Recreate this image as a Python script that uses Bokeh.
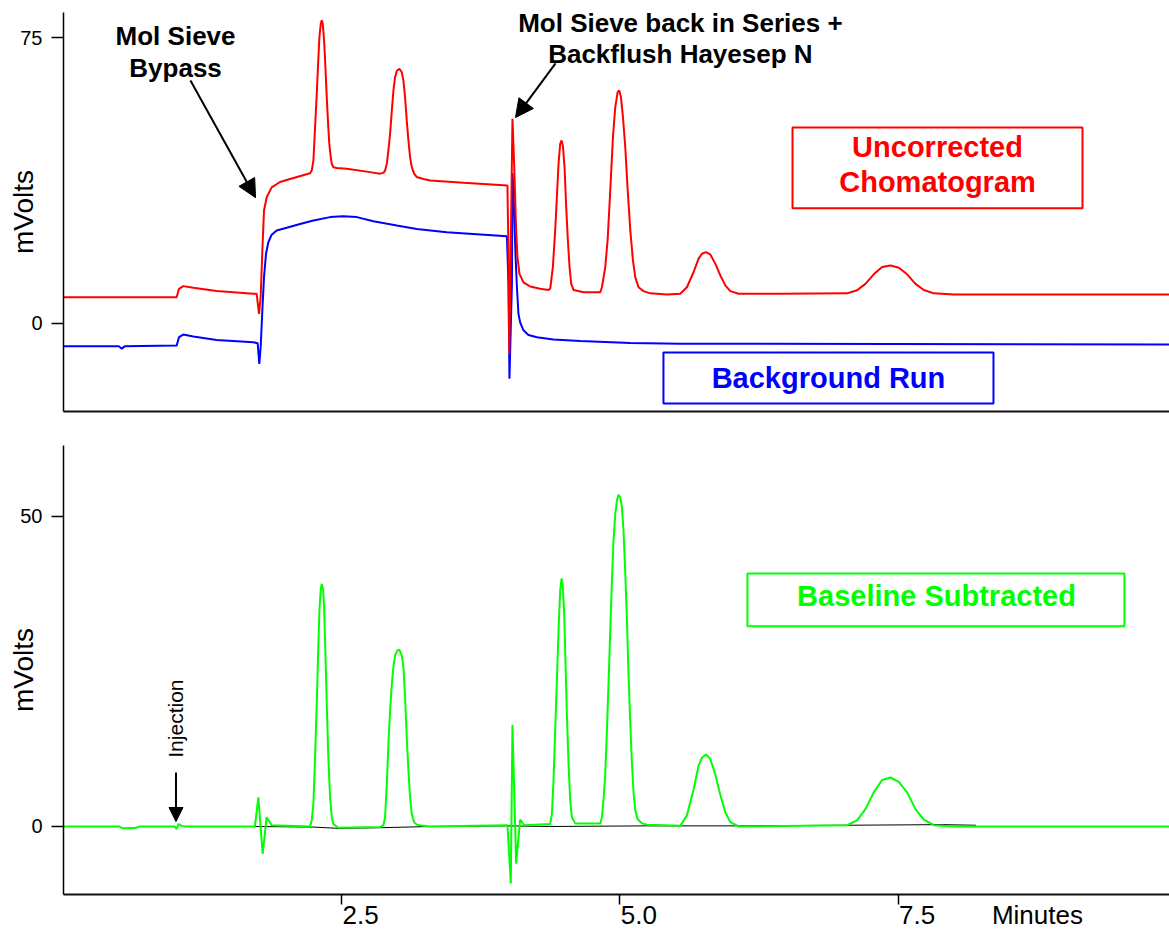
import math
from bokeh.plotting import figure
from bokeh.layouts import column
from bokeh.models import (Label, Arrow, NormalHead, BoxAnnotation, FixedTicker, Range1d,
                          LinearAxis, CustomJSTickFormatter)
from bokeh.embed import file_html
from bokeh.resources import INLINE

# ---------------- data (minutes, mVolts) ----------------
red_points = [
    (0.00, 6.9), (1.017, 6.9), (1.038, 9.1), (1.077, 9.8), (1.166, 9.4), (1.376, 8.5),
    (1.706, 7.8), (1.736, 7.8), (1.757, 2.5), (1.772, 6.9), (1.787, 19.1), (1.802, 29.6),
    (1.826, 33.1), (1.871, 35.7), (1.946, 37.1), (2.036, 37.9), (2.216, 39.4),
    (2.231, 40.1), (2.246, 42.7), (2.261, 51.5), (2.276, 60.2), (2.291, 69.8),
    (2.300, 75.1), (2.312, 78.6), (2.321, 79.5), (2.330, 78.6), (2.342, 74.2),
    (2.354, 67.2), (2.366, 59.3), (2.378, 52.4), (2.389, 47.1), (2.402, 43.6),
    (2.411, 41.9), (2.425, 41.0), (2.456, 40.8), (2.546, 40.6), (2.755, 39.7),
    (2.845, 39.3), (2.875, 39.5), (2.890, 40.1), (2.906, 41.9), (2.920, 45.4),
    (2.935, 49.7), (2.951, 55.9), (2.965, 61.1), (2.980, 64.6), (2.996, 66.3),
    (3.019, 66.8), (3.040, 65.9), (3.055, 63.7), (3.070, 59.3), (3.085, 53.2),
    (3.100, 48.0), (3.115, 43.6), (3.130, 41.0), (3.151, 39.3), (3.175, 38.4),
    (3.235, 37.9), (3.295, 37.5), (3.595, 36.9), (3.990, 36.2), (3.998, 20.0),
    (4.006, -8.0), (4.015, 10.0), (4.035, 53.7), (4.050, 41.9), (4.059, 33.1),
    (4.068, 24.4), (4.080, 17.4), (4.098, 13.0), (4.134, 10.8), (4.194, 9.7),
    (4.284, 9.1), (4.359, 8.8), (4.374, 9.1), (4.398, 14.8), (4.419, 24.4),
    (4.434, 33.1), (4.449, 41.9), (4.464, 47.1), (4.476, 48.0), (4.488, 46.7),
    (4.503, 41.0), (4.518, 30.5), (4.533, 21.8), (4.548, 14.8), (4.563, 10.4),
    (4.584, 8.8), (4.674, 8.2), (4.794, 8.2), (4.824, 8.2), (4.839, 9.5),
    (4.869, 14.8), (4.890, 21.8), (4.914, 34.9), (4.938, 48.9), (4.959, 56.7),
    (4.980, 60.7), (4.995, 61.1), (5.010, 59.3), (5.028, 54.1), (5.049, 46.2),
    (5.069, 35.7), (5.094, 24.4), (5.118, 16.5), (5.139, 12.1), (5.168, 9.5),
    (5.213, 8.5), (5.273, 7.9), (5.424, 7.6), (5.543, 7.8), (5.603, 9.5),
    (5.663, 13.5), (5.708, 17.0), (5.738, 18.3), (5.774, 18.7), (5.813, 18.1),
    (5.858, 15.7), (5.903, 12.6), (5.948, 10.0), (5.993, 8.5), (6.068, 7.8),
    (6.442, 7.8), (7.042, 7.9), (7.132, 8.7), (7.207, 10.4), (7.282, 12.9),
    (7.357, 14.8), (7.432, 15.2), (7.507, 14.6), (7.582, 12.9), (7.657, 10.4),
    (7.732, 8.8), (7.822, 7.9), (8.001, 7.6), (9.94, 7.6),
]

blue_points = [
    (0.00, -6.0), (0.50, -6.0), (0.523, -6.6), (0.55, -6.0), (1.017, -5.8),
    (1.038, -3.6), (1.077, -2.9), (1.166, -3.4), (1.376, -4.3), (1.706, -4.9),
    (1.745, -5.2), (1.760, -10.6), (1.772, -6.2), (1.787, 3.4), (1.802, 12.1),
    (1.820, 18.3), (1.841, 21.3), (1.871, 23.3), (1.916, 24.4), (2.006, 25.1),
    (2.126, 26.1), (2.246, 27.0), (2.396, 27.9), (2.515, 28.1), (2.636, 27.9),
    (2.785, 26.8), (2.996, 25.7), (3.175, 24.8), (3.445, 23.9), (3.985, 22.9),
    (3.999, 10.4), (4.008, -14.5), (4.030, 10.4), (4.035, 39.4), (4.044, 34.9),
    (4.053, 27.0), (4.062, 18.3), (4.075, 9.5), (4.089, 2.5), (4.104, 0.3),
    (4.134, -1.8), (4.179, -3.0), (4.254, -3.6), (4.404, -4.2), (4.644, -4.6),
    (5.094, -5.1), (5.543, -5.3), (9.94, -5.5),
]

green_points = [
    (0.00, 0.0), (0.50, 0.0), (0.53, -0.3), (0.65, -0.25), (0.68, 0.0),
    (1.00, 0.0), (1.015, -0.4), (1.035, 0.4), (1.06, 0.1), (1.10, 0.0),
    (1.72, 0.0), (1.751, 4.7), (1.790, -4.4), (1.826, 1.5), (1.871, 0.2),
    (2.216, 0.0), (2.231, 1.0), (2.246, 3.7), (2.261, 11.2), (2.276, 19.8),
    (2.291, 29.5), (2.300, 34.8), (2.312, 38.3), (2.321, 39.1), (2.333, 38.3),
    (2.342, 35.4), (2.354, 27.9), (2.366, 19.8), (2.380, 11.2), (2.396, 4.7),
    (2.411, 1.5), (2.425, 0.4), (2.441, 0.2), (2.471, -0.2), (2.845, -0.1),
    (2.875, 0.2), (2.890, 1.5), (2.906, 6.9), (2.920, 13.3), (2.935, 18.7),
    (2.951, 23.0), (2.965, 25.7), (2.980, 27.6), (3.001, 28.4), (3.019, 28.5),
    (3.040, 27.6), (3.055, 25.7), (3.070, 20.9), (3.085, 14.4), (3.100, 9.0),
    (3.115, 4.7), (3.130, 2.0), (3.151, 0.7), (3.175, 0.3), (3.235, 0.1),
    (3.295, 0.0), (3.990, 0.2), (4.020, -9.2), (4.035, 16.4), (4.068, -6.0),
    (4.104, 1.1), (4.140, 0.2), (4.374, 0.4), (4.389, 2.0), (4.404, 7.4),
    (4.419, 15.5), (4.434, 23.5), (4.449, 31.6), (4.464, 38.1), (4.476, 40.0),
    (4.488, 38.6), (4.500, 34.3), (4.512, 26.2), (4.524, 18.2), (4.539, 10.1),
    (4.554, 4.2), (4.569, 1.5), (4.599, 0.5), (4.824, 0.5), (4.839, 1.5),
    (4.853, 4.2), (4.869, 8.5), (4.884, 15.5), (4.899, 23.5), (4.914, 31.6),
    (4.929, 39.7), (4.943, 46.1), (4.959, 50.4), (4.974, 52.6), (4.988, 53.5),
    (5.004, 53.1), (5.019, 51.5), (5.033, 47.7), (5.049, 40.8), (5.064, 33.2),
    (5.078, 24.6), (5.094, 16.6), (5.109, 10.1), (5.124, 5.3), (5.139, 2.6),
    (5.159, 1.2), (5.199, 0.5), (5.244, 0.3), (5.543, 0.1), (5.603, 1.8),
    (5.663, 6.0), (5.708, 9.8), (5.738, 11.1), (5.774, 11.6), (5.813, 10.9),
    (5.858, 8.4), (5.903, 5.1), (5.948, 2.3), (5.993, 0.7), (6.068, 0.0),
    (7.042, 0.2), (7.132, 1.0), (7.207, 2.8), (7.282, 5.5), (7.357, 7.5),
    (7.432, 7.9), (7.507, 7.2), (7.582, 5.5), (7.657, 2.8), (7.732, 1.1),
    (7.822, 0.2), (8.00, 0.0), (9.94, 0.0),
]

baseline_points = [
    (1.72, 0.0), (2.25, -0.1), (2.47, -0.3), (2.85, -0.2), (3.30, 0.0),
    (3.99, 0.1), (4.37, 0.0), (4.82, 0.05), (5.25, 0.1), (5.55, 0.1),
    (6.14, 0.1), (7.04, 0.2), (7.90, 0.3), (8.20, 0.2),
]

top_yticks = [0, 75]
bottom_yticks = [0, 50]
x_ticks = [2.5, 5.0, 7.5]
x_tick_labels = ["2.5", "5.0", "7.5"]
x_title = "Minutes"

FONT = "Liberation Sans"
RED, BLUE, GREEN = "#FF0000", "#0000FF", "#00FF00"


def xy(points):
    return [p[0] for p in points], [p[1] for p in points]


def style(p, yticks):
    p.xgrid.visible = False
    p.ygrid.visible = False
    p.outline_line_color = None
    p.yaxis.ticker = FixedTicker(ticks=yticks)
    p.yaxis.minor_tick_line_color = None
    p.yaxis.major_tick_out = 12
    p.yaxis.major_tick_in = 0
    p.yaxis.major_tick_line_width = 1.5
    p.yaxis.axis_line_width = 1.5
    p.yaxis.major_label_text_font = FONT
    p.yaxis.major_label_text_font_size = "20px"
    p.yaxis.major_label_text_color = "black"
    p.yaxis.major_label_standoff = 9
    p.yaxis.axis_label = "mVolts"
    p.yaxis.axis_label_text_font = FONT
    p.yaxis.axis_label_text_font_size = "28px"
    p.yaxis.axis_label_text_font_style = "normal"
    p.yaxis.axis_label_text_color = "black"
    p.yaxis.axis_label_standoff = -22
    p.xaxis.axis_line_width = 2
    p.xaxis.axis_line_color = "#111111"
    p.xaxis.minor_tick_line_color = None


# ---------------- top panel ----------------
top = figure(width=1169, height=420, x_range=Range1d(0, 9.94), y_range=Range1d(-23.08, 81.56),
             output_backend="svg", toolbar_location=None, title=None,
             min_border_left=63, min_border_right=0, min_border_top=12, min_border_bottom=9)
style(top, top_yticks)
top.xaxis.ticker = FixedTicker(ticks=[])
top.xaxis.major_tick_line_color = None
top.xaxis.major_tick_out = 0
top.xaxis.major_label_standoff = 0

rx, ry = xy(red_points)
bx, by = xy(blue_points)
top.line(bx, by, line_color=BLUE, line_width=2)
top.line(rx, ry, line_color=RED, line_width=2)

for txt, x, y in [("Mol Sieve", 1.007, 75.3), ("Bypass", 1.007, 67.1),
                  ("Mol Sieve back in Series +", 5.544, 78.9), ("Backflush Hayesep N", 5.544, 70.8)]:
    top.add_layout(Label(x=x, y=y, text=txt, text_font=FONT, text_font_size="26px",
                         text_font_style="bold", text_align="center", text_baseline="middle",
                         text_color="black"))

top.add_layout(Arrow(end=NormalHead(size=18, fill_color="black", line_color="black"),
                     x_start=1.141, y_start=63.7, x_end=1.726, y_end=33.0,
                     line_color="black", line_width=2))
top.add_layout(Arrow(end=NormalHead(size=18, fill_color="black", line_color="black"),
                     x_start=4.422, y_start=68.2, x_end=4.062, y_end=54.0,
                     line_color="black", line_width=2))

top.add_layout(BoxAnnotation(left=6.552, right=9.158, bottom=30.2, top=51.4,
                             fill_color=None, line_color=RED, line_width=2, line_alpha=1))
top.add_layout(Label(x=7.855, y=46.2, text="Uncorrected", text_font=FONT, text_font_size="29px",
                     text_font_style="bold", text_align="center", text_baseline="middle",
                     text_color=RED))
top.add_layout(Label(x=7.855, y=37.0, text="Chomatogram", text_font=FONT, text_font_size="29px",
                     text_font_style="bold", text_align="center", text_baseline="middle",
                     text_color=RED))

top.add_layout(BoxAnnotation(left=5.392, right=8.358, bottom=-21.0, top=-7.6,
                             fill_color=None, line_color=BLUE, line_width=2, line_alpha=1))
top.add_layout(Label(x=6.875, y=-14.2, text="Background Run", text_font=FONT, text_font_size="29px",
                     text_font_style="bold", text_align="center", text_baseline="middle",
                     text_color=BLUE))

# ---------------- bottom panel ----------------
bot = figure(width=1169, height=512, x_range=top.x_range, y_range=Range1d(-10.97, 61.45),
             output_backend="svg", toolbar_location=None, title=None,
             min_border_left=63, min_border_right=0, min_border_top=25, min_border_bottom=38)
style(bot, bottom_yticks)
# tick marks of the time axis (their own labels are not painted)
bot.xaxis.ticker = FixedTicker(ticks=x_ticks)
bot.xaxis.major_tick_out = 10
bot.xaxis.major_tick_in = 0
bot.xaxis.major_tick_line_color = "black"
bot.xaxis.major_tick_line_width = 1.5
bot.xaxis.major_label_standoff = 0
bot.xaxis.major_label_text_font_size = "1px"
bot.xaxis.major_label_text_color = None

# labels of the time axis: tick texts start at their tick, the axis title sits at the right
LABEL_SHIFT = 0.171  # half a label width, in minutes
label_pos = [t + LABEL_SHIFT for t in x_ticks] + [8.753]
label_txt = x_tick_labels + [x_title]
lab_axis = LinearAxis(ticker=FixedTicker(ticks=label_pos),
                      formatter=CustomJSTickFormatter(args=dict(pos=label_pos, labs=label_txt), code="""
                          let best = 0, bd = Infinity;
                          for (let i = 0; i < pos.length; i++) {
                              const d = Math.abs(pos[i] - tick);
                              if (d < bd) { bd = d; best = i; }
                          }
                          return labs[best];
                      """))
lab_axis.axis_line_color = None
lab_axis.major_tick_line_color = None
lab_axis.minor_tick_line_color = None
lab_axis.major_tick_out = 0
lab_axis.major_tick_in = 0
lab_axis.major_label_standoff = -5
lab_axis.major_label_text_font = FONT
lab_axis.major_label_text_font_size = "26px"
lab_axis.major_label_text_color = "black"
bot.add_layout(lab_axis, "below")

lx, ly = xy(baseline_points)
gx, gy = xy(green_points)
bot.line(lx, ly, line_color="black", line_width=1)
bot.line(gx, gy, line_color=GREEN, line_width=2)

bot.add_layout(BoxAnnotation(left=6.147, right=9.535, bottom=32.3, top=40.8,
                             fill_color=None, line_color=GREEN, line_width=2, line_alpha=1))
bot.add_layout(Label(x=7.846, y=37.1, text="Baseline Subtracted", text_font=FONT, text_font_size="29px",
                     text_font_style="bold", text_align="center", text_baseline="middle",
                     text_color=GREEN))

bot.add_layout(Label(x=1.011, y=17.4, text="Injection", angle=math.pi / 2, text_font=FONT,
                     text_font_size="21px", text_align="center", text_baseline="middle",
                     text_color="black"))
bot.add_layout(Arrow(end=NormalHead(size=14, fill_color="black", line_color="black"),
                     x_start=1.011, y_start=8.7, x_end=1.011, y_end=0.8,
                     line_color="black", line_width=2))

layout = column(top, bot, spacing=0)
open("out.html", "w").write(file_html(layout, INLINE))
